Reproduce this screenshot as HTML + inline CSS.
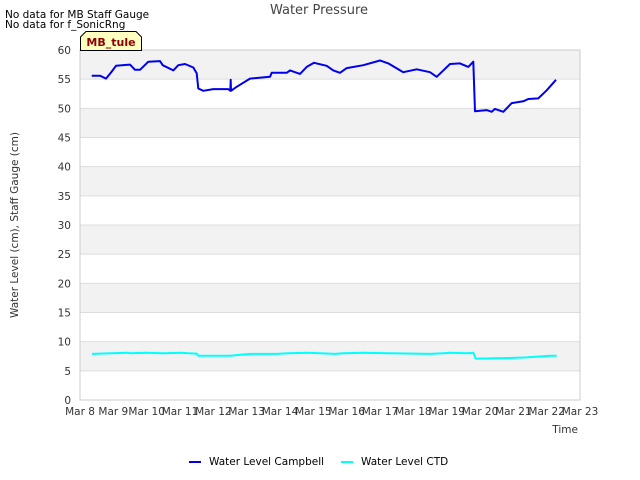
<!DOCTYPE html>
<html><head><meta charset="utf-8"><style>
body{margin:0;background:#fff;}
svg{display:block;font-family:"DejaVu Sans","Liberation Sans",sans-serif;}
</style></head><body>
<svg id="chart" width="640" height="480" viewBox="0 0 640 480">
<rect x="0" y="0" width="640" height="480" fill="#fff"/>
<g id="bands"></g><g id="grid"></g>
<rect x="80" y="50" width="500" height="350" fill="none" stroke="#cccccc"/>
<g id="series"></g><g id="axes"></g>
<text x="319" y="14" text-anchor="middle" font-size="13" fill="#444">Water Pressure</text>
<text x="5" y="18" font-size="10.5" fill="#000">No data for MB Staff Gauge</text>
<text x="5" y="28" font-size="10.5" fill="#000">No data for f_SonicRng</text>
<g>
<path d="M80.5,50.5 L80.5,37 L86,31.5 L136,31.5 L141.5,37 L141.5,50.5 Z" fill="#ffffc0" stroke="#000" stroke-width="1"/>
<text x="111" y="46" text-anchor="middle" font-size="11" font-weight="bold" fill="#8b0000">MB_tule</text>
</g>
<text x="18" y="225" transform="rotate(-90 18 225)" text-anchor="middle" font-size="10.5" fill="#333">Water Level (cm), Staff Gauge (cm)</text>
<text x="578" y="433" text-anchor="end" font-size="10.5" fill="#333">Time</text>
<g>
<g><line x1="189" y1="462" x2="201" y2="462" stroke="#0000ee" stroke-width="2"/><text x="209" y="465" font-size="10.5" fill="#000">Water Level Campbell</text></g>
<g><line x1="341" y1="462" x2="353" y2="462" stroke="#00ffff" stroke-width="2"/><text x="361" y="465" font-size="10.5" fill="#000">Water Level CTD</text></g>
</g>
</svg>
<script>
const xTickLabels=["Mar 8","Mar 9","Mar 10","Mar 11","Mar 12","Mar 13","Mar 14","Mar 15","Mar 16","Mar 17","Mar 18","Mar 19","Mar 20","Mar 21","Mar 22","Mar 23"];
const yTicks=[0,5,10,15,20,25,30,35,40,45,50,55,60];
const campbellDays=[0.35,0.6,0.78,0.95,1.08,1.5,1.65,1.8,2.05,2.4,2.48,2.8,2.95,3.15,3.4,3.5,3.55,3.7,4.0,4.45,4.51,4.52,4.53,4.7,5.1,5.7,5.75,6.2,6.3,6.6,6.8,7.02,7.4,7.6,7.8,8.0,8.5,9.0,9.25,9.7,10.1,10.5,10.7,11.1,11.4,11.65,11.8,11.85,12.2,12.35,12.45,12.7,12.95,13.3,13.45,13.75,14.0,14.28];
const campbellValues=[55.6,55.6,55.1,56.3,57.3,57.5,56.6,56.6,58.0,58.1,57.4,56.5,57.4,57.6,57.0,56.0,53.4,53.0,53.3,53.3,53.0,54.9,53.0,53.7,55.1,55.4,56.1,56.1,56.5,55.9,57.1,57.8,57.3,56.5,56.1,56.9,57.4,58.2,57.7,56.2,56.7,56.2,55.4,57.6,57.7,57.1,58.0,49.5,49.7,49.4,49.9,49.4,50.9,51.2,51.6,51.7,53.1,54.9];
const ctdDays=[0.36,0.95,1.45,1.5,1.95,2.5,3.0,3.25,3.5,3.55,4.5,5.1,5.9,6.25,6.8,7.2,7.65,7.9,8.5,9.3,10.5,10.9,11.1,11.6,11.8,11.87,12.9,13.4,13.9,14.1,14.3];
const ctdValues=[7.9,8.0,8.1,8.0,8.1,8.0,8.1,8.0,7.95,7.6,7.6,7.9,7.9,8.0,8.1,8.0,7.9,8.0,8.1,8.0,7.9,8.0,8.1,8.0,8.1,7.1,7.2,7.3,7.5,7.6,7.6];
const X0=80,X1=580,Y0=400,Y1=50,DAYS=15,YMAX=60;
const xs=d=>X0+d*(X1-X0)/DAYS;
const ys=v=>Y0-v*(Y0-Y1)/YMAX;
const NS="http://www.w3.org/2000/svg";
function mk(tag,attrs,parent){const e=document.createElementNS(NS,tag);for(const k in attrs)e.setAttribute(k,attrs[k]);parent.appendChild(e);return e;}
const bands=document.getElementById('bands'),grid=document.getElementById('grid'),axes=document.getElementById('axes'),series=document.getElementById('series');
for(let i=0;i<yTicks.length-1;i++){
  if(i%2===1){const r=mk('rect',{x:X0,y:ys(yTicks[i+1]),width:X1-X0,height:ys(yTicks[i])-ys(yTicks[i+1]),fill:'#f2f2f2'},bands);
  
  }
}
yTicks.forEach(v=>{
  const l=mk('line',{x1:X0,x2:X1,y1:ys(v),y2:ys(v),stroke:'#dddddd'},grid);
  
  
  const t=mk('text',{x:X0-9,y:ys(v)+4,'text-anchor':'end','font-size':'10.5',fill:'#333'},axes);
  t.textContent=v;
  
  
});
xTickLabels.forEach((s,i)=>{
  const t=mk('text',{x:xs(i),y:Y0+15,'text-anchor':'middle','font-size':'10.5',fill:'#333'},axes);
  t.textContent=s;
  
  
});
function line(days,vals,color,name){
  const pts=days.map((d,i)=>xs(d).toFixed(1)+','+ys(vals[i]).toFixed(1)).join(' ');
  const p=mk('polyline',{points:pts,fill:'none',stroke:color,'stroke-width':'2','stroke-linejoin':'round'},series);
  
  
}
line(ctdDays,ctdValues,'#00ffff','series-line-ctd');
line(campbellDays,campbellValues,'#0000ee','series-line-campbell');
</script>
</body></html>
